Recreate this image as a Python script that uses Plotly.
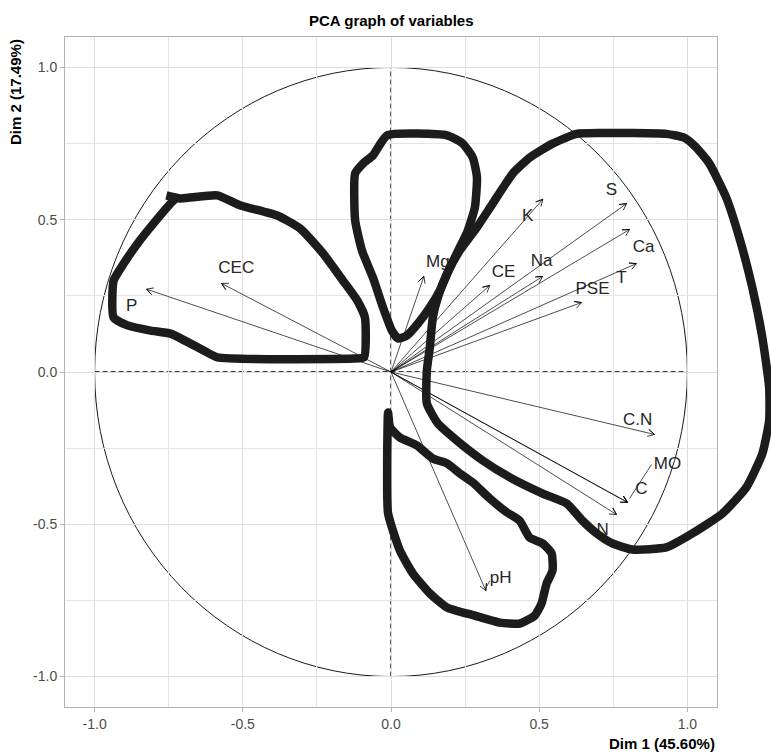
import math
import plotly.graph_objects as go

# ---------------- data ----------------
var_names = ["P", "CEC", "Mg", "K", "CE", "Na", "S", "Ca", "T", "PSE",
             "C.N", "MO", "C", "N", "pH"]
dim1 = [-0.825, -0.572, 0.111, 0.512, 0.333, 0.512, 0.795, 0.805, 0.828, 0.643,
        0.889, 0.798, 0.798, 0.761, 0.320]
dim2 = [0.272, 0.291, 0.314, 0.567, 0.284, 0.314, 0.553, 0.468, 0.356, 0.228,
        -0.205, -0.428, -0.428, -0.468, -0.718]
label_x = [-0.875, -0.522, 0.158, 0.461, 0.380, 0.508, 0.744, 0.852, 0.778, 0.680,
           0.832, 0.933, 0.845, 0.714, 0.370]
label_y = [0.215, 0.340, 0.359, 0.511, 0.327, 0.362, 0.596, 0.409, 0.307, 0.271,
           -0.159, -0.304, -0.387, -0.520, -0.678]

# repel connector segments (label MO, label pH)
conn_x0 = [0.805, 0.324]
conn_y0 = [-0.415, -0.703]
conn_x1 = [0.879, 0.333]
conn_y1 = [-0.304, -0.685]

tick_vals = [-1.0, -0.5, 0.0, 0.5, 1.0]
tick_text = ["-1.0", "-0.5", "0.0", "0.5", "1.0"]
minor_vals = [-0.75, -0.25, 0.25, 0.75]

# hand-drawn outlines (data units)
outline1_x = [-0.758, -0.710, -0.586, -0.508, -0.384, -0.306, -0.229, -0.162, -0.114, -0.088,
              -0.091, -0.128, -0.586, -0.633, -0.744, -0.811, -0.889, -0.936, -0.936, -0.902,
              -0.855, -0.801, -0.734, -0.717]
outline1_y = [0.580, 0.570, 0.580, 0.547, 0.514, 0.471, 0.389, 0.300, 0.235, 0.179,
              0.048, 0.044, 0.048, 0.071, 0.126, 0.136, 0.153, 0.179, 0.300, 0.356,
              0.422, 0.488, 0.563, 0.576]

outline2_x = [-0.013, 0.189, 0.242, 0.276, 0.290, 0.283, 0.259, 0.232, 0.199, 0.165,
              0.131, 0.091, 0.054, 0.024, 0.003, -0.027, -0.061, -0.098, -0.121, -0.121,
              -0.094, -0.061, -0.013]
outline2_y = [0.777, 0.777, 0.750, 0.704, 0.639, 0.540, 0.464, 0.409, 0.343, 0.268,
              0.212, 0.159, 0.120, 0.110, 0.136, 0.212, 0.310, 0.399, 0.498, 0.652,
              0.685, 0.711, 0.777]

outline3_x = [0.626, 0.704, 0.929, 0.990, 1.030, 1.074, 1.131, 1.175, 1.219, 1.253,
              1.276, 1.276, 1.253, 1.199, 1.118, 1.017, 0.929, 0.815, 0.747, 0.694,
              0.646, 0.593, 0.512, 0.401, 0.310, 0.222, 0.158, 0.121, 0.121, 0.131,
              0.141, 0.158, 0.189, 0.232, 0.290, 0.343, 0.411, 0.468, 0.545, 0.626]
outline3_y = [0.782, 0.785, 0.782, 0.769, 0.737, 0.685, 0.573, 0.442, 0.278, 0.113,
              -0.051, -0.159, -0.268, -0.379, -0.465, -0.530, -0.576, -0.583, -0.563, -0.530,
              -0.488, -0.432, -0.399, -0.346, -0.291, -0.225, -0.169, -0.103, 0.005, 0.080,
              0.179, 0.245, 0.323, 0.399, 0.475, 0.553, 0.652, 0.704, 0.750, 0.782]

outline4_x = [-0.010, -0.003, 0.030, 0.087, 0.141, 0.189, 0.232, 0.276, 0.333, 0.391,
              0.434, 0.468, 0.512, 0.542, 0.545, 0.525, 0.508, 0.485, 0.434, 0.367,
              0.283, 0.189, 0.131, 0.074, 0.030, -0.010, -0.013, -0.010]
outline4_y = [-0.133, -0.182, -0.215, -0.241, -0.284, -0.300, -0.333, -0.363, -0.415, -0.461,
              -0.488, -0.544, -0.563, -0.596, -0.652, -0.695, -0.760, -0.800, -0.826, -0.823,
              -0.800, -0.773, -0.727, -0.662, -0.586, -0.464, -0.323, -0.133]
outlines = [(outline1_x, outline1_y), (outline2_x, outline2_y),
            (outline3_x, outline3_y), (outline4_x, outline4_y)]

# ---------------- layout geometry ----------------
W, H = 771, 754
pan_l, pan_r, pan_t, pan_b = 65, 717, 37, 707
rng = 1.1
sx = (pan_r - pan_l) / (2 * rng)
sy = (pan_b - pan_t) / (2 * rng)
cx_px = (pan_l + pan_r) / 2
cy_px_from_bottom = H - (pan_t + pan_b) / 2

FONT = "Liberation Sans, Arial, sans-serif"

fig = go.Figure()

# arrows (shafts)
ax_x, ax_y = [], []
for x, y in zip(dim1, dim2):
    ax_x += [0, x, None]
    ax_y += [0, y, None]
fig.add_trace(go.Scatter(x=ax_x, y=ax_y, mode="lines",
                         line=dict(color="black", width=0.7),
                         hoverinfo="skip", showlegend=False))

# open arrow heads
L = 7.5
a = math.radians(28)
hx, hy = [], []
for x, y in zip(dim1, dim2):
    dx, dy = x * sx, y * sy
    n = math.hypot(dx, dy)
    ux, uy = dx / n, dy / n
    for s in (1, -1):
        rx = ux * math.cos(a) - s * uy * math.sin(a)
        ry = s * ux * math.sin(a) + uy * math.cos(a)
        hx += [x - L * rx / sx, x]
        hy += [y - L * ry / sy, y]
    hx.append(None)
    hy.append(None)
fig.add_trace(go.Scatter(x=hx, y=hy, mode="lines",
                         line=dict(color="black", width=0.8),
                         hoverinfo="skip", showlegend=False))

# connectors
cxs, cys = [], []
for a0, b0, a1, b1 in zip(conn_x0, conn_y0, conn_x1, conn_y1):
    cxs += [a0, a1, None]
    cys += [b0, b1, None]
fig.add_trace(go.Scatter(x=cxs, y=cys, mode="lines",
                         line=dict(color="#222222", width=0.8),
                         hoverinfo="skip", showlegend=False))

# labels
fig.add_trace(go.Scatter(x=label_x, y=label_y, mode="text", text=var_names,
                         textfont=dict(family=FONT, size=17, color="#262626"),
                         hoverinfo="skip", showlegend=False))

# hand-drawn outlines on a full-figure overlay subplot
for ox, oy in outlines:
    fig.add_trace(go.Scatter(x=ox, y=oy, mode="lines", xaxis="x2", yaxis="y2",
                             line=dict(color="#1c1c1c", width=8.5, shape="spline",
                                       smoothing=0.5),
                             hoverinfo="skip", showlegend=False))

# circle and dashed axes
fig.add_shape(type="circle", xref="x", yref="y", x0=-1, y0=-1, x1=1, y1=1,
              line=dict(color="black", width=0.9), layer="below")
fig.add_shape(type="line", xref="x", yref="y", x0=-1, y0=0, x1=1, y1=0,
              line=dict(color="black", width=1.3, dash="5px,3px"), layer="below")
fig.add_shape(type="line", xref="x", yref="y", x0=0, y0=-1, x1=0, y1=1,
              line=dict(color="black", width=1.3, dash="5px,3px"), layer="below")

axis_common = dict(
    range=[-rng, rng], tickvals=tick_vals, ticktext=tick_text,
    showgrid=True, gridcolor="#DEDEDE", gridwidth=1,
    minor=dict(tickvals=minor_vals, showgrid=True, gridcolor="#E4E4E4", gridwidth=0.6,
               ticks=""),
    zeroline=False, showline=True, mirror=True, linecolor="#B3B3B3", linewidth=1,
    ticks="outside", ticklen=4, tickcolor="#B3B3B3", tickwidth=1,
    tickfont=dict(family=FONT, size=14, color="#4D4D4D"),
    fixedrange=True,
)

fig.update_layout(
    width=W, height=H,
    margin=dict(l=0, r=0, t=0, b=0),
    paper_bgcolor="white", plot_bgcolor="rgba(0,0,0,0)",
    xaxis=dict(domain=[pan_l / W, pan_r / W], anchor="y", **axis_common),
    yaxis=dict(domain=[(H - pan_b) / H, (H - pan_t) / H], anchor="x", **axis_common),
    xaxis2=dict(domain=[0, 1], anchor="y2", visible=False,
                range=[-cx_px / sx, (W - cx_px) / sx], fixedrange=True),
    yaxis2=dict(domain=[0, 1], anchor="x2", visible=False,
                range=[-cy_px_from_bottom / sy, (H - cy_px_from_bottom) / sy], fixedrange=True),
    showlegend=False,
)

fig.add_annotation(text="<b>PCA graph of variables</b>", xref="paper", yref="paper",
                   x=cx_px / W, y=1 - 20 / H, xanchor="center", yanchor="middle",
                   showarrow=False,
                   font=dict(family=FONT, size=15, color="black"))
fig.add_annotation(text="<b>Dim 1 (45.60%)</b>", xref="paper", yref="paper",
                   x=pan_r / W, y=1 - 743 / H, xanchor="right", yanchor="middle",
                   showarrow=False,
                   font=dict(family=FONT, size=15, color="black"))
fig.add_annotation(text="<b>Dim 2 (17.49%)</b>", xref="paper", yref="paper",
                   x=15 / W, y=1 - pan_t / H, xanchor="center", yanchor="top",
                   textangle=-90, showarrow=False,
                   font=dict(family=FONT, size=15, color="black"))

fig.write_html(
    "out.html",
    config={"displayModeBar": False},
    post_script="document.body.style.margin='0px';document.body.style.overflow='hidden';",
)
